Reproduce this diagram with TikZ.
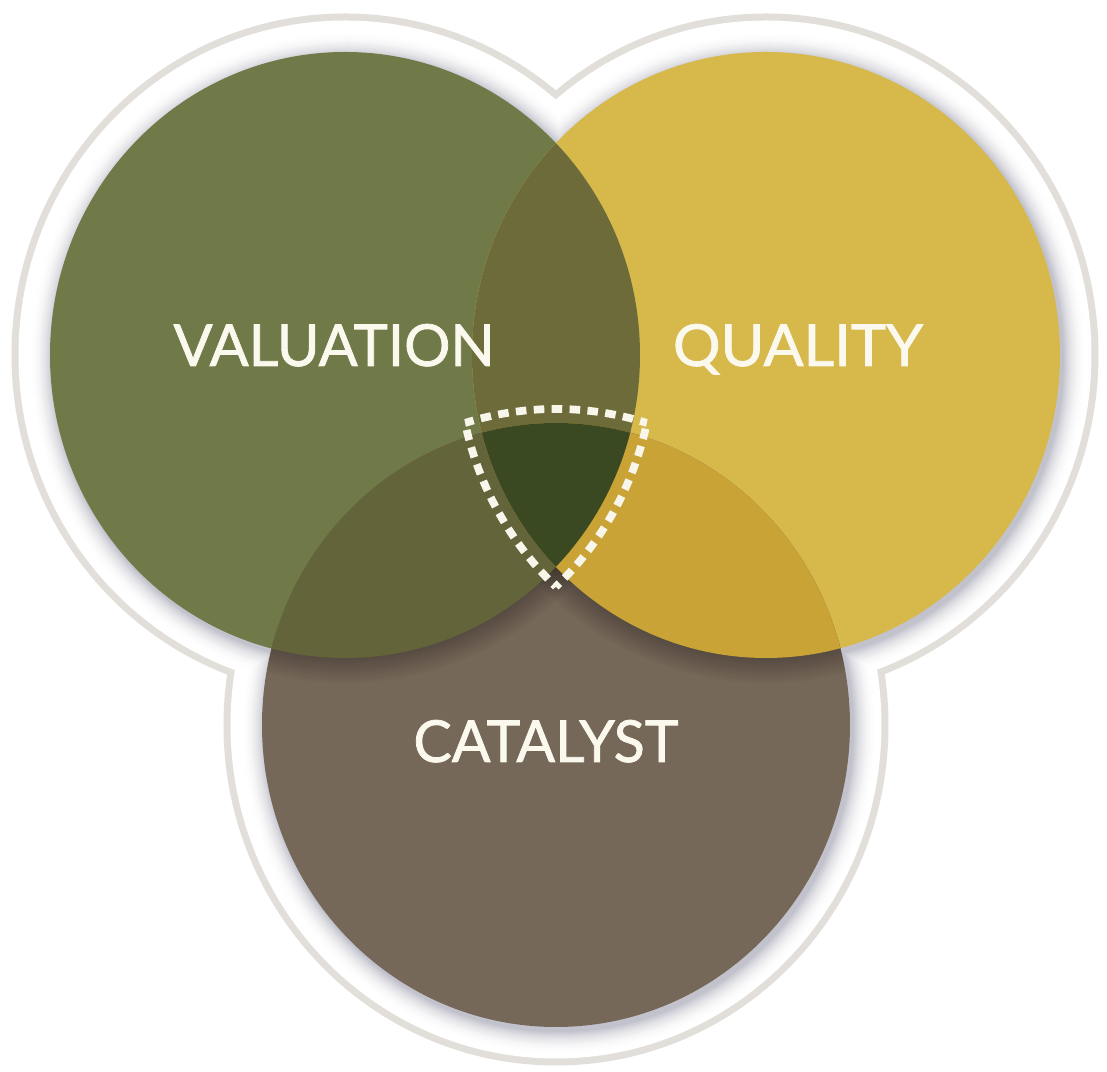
\documentclass[tikz,border=0pt]{standalone}
\usepackage{fontspec}
\setmainfont{Lato}
\newfontfamily\lblfont{Lato}[FakeBold=1.3]
\usepackage{graphicx}
\definecolor{valc}{HTML}{707A48}
\definecolor{qualc}{HTML}{D6B84B}
\definecolor{catc}{HTML}{766858}
\definecolor{vqc}{HTML}{6D6B3A}
\definecolor{vcc}{HTML}{636439}
\definecolor{qcc}{HTML}{C9A336}
\definecolor{vqcc}{HTML}{3B4922}
\definecolor{ringc}{HTML}{E2DFDA}
\definecolor{shadowc}{HTML}{BDBDC8}
\definecolor{labelc}{HTML}{FBF8EE}
\definecolor{dashc}{HTML}{F8F5EA}
\newcommand\ellV[1]{(3.45,-3.55) ellipse [x radius={2.95+#1}, y radius={3.03+#1}]}
\newcommand\ellQ[1]{(7.66,-3.55) ellipse [x radius={2.94+#1}, y radius={3.03+#1}]}
\newcommand\ellC[1]{(5.56,-7.25) ellipse [x radius={2.94+#1}, y radius={3.02+#1}]}
\begin{document}
\begin{tikzpicture}[
  lbl/.style={text=labelc, inner sep=0pt, anchor=base, font=\lblfont},
  dashline/.style={draw=dashc, line width=2.2pt, dash pattern=on 3pt off 2.1pt},
  castshadow/.style={draw=black, opacity=0.022}
]
\useasboundingbox (0,0) rectangle (11.07,-10.72);
\fill[white] (0,0) rectangle (11.07,-10.72);
% outer ring
\fill[ringc] \ellV{0.385} \ellQ{0.385} \ellC{0.385};
\fill[white] \ellV{0.315} \ellQ{0.315} \ellC{0.315};
% soft shadow round the circles
\foreach \k in {22,21,...,1} {
  \pgfmathsetmacro\p{100*(1-\k/24)^2}
  \fill[shadowc!\p!white, shift={(0.03,-0.04)}] \ellV{\k/100} \ellQ{\k/100} \ellC{\k/100};
}
% circles
\fill[valc] \ellV{0};
\fill[qualc] \ellQ{0};
\fill[catc] \ellC{0};
% shadow cast on the catalyst circle
\begin{scope}
  \clip \ellC{0};
  \foreach \w in {1.4pt,2.8pt,4.2pt,5.7pt,7.1pt,8.5pt,10pt,11.4pt,12.8pt,14.2pt} {
    \draw[castshadow, line width=\w] \ellV{0};
    \draw[castshadow, line width=\w] \ellQ{0};
  }
\end{scope}
% overlaps
\begin{scope}\clip \ellV{0}; \fill[vqc] \ellQ{0}; \end{scope}
\begin{scope}\clip \ellV{0}; \fill[vcc] \ellC{0}; \end{scope}
\begin{scope}\clip \ellQ{0}; \fill[qcc] \ellC{0}; \end{scope}
\begin{scope}\clip \ellV{0}; \clip \ellQ{0}; \fill[vqcc] \ellC{0}; \end{scope}
% dashed outline round the centre
\begin{scope}\clip \ellQ{0.14}; \clip \ellC{0.14}; \draw[dashline] \ellV{0.14}; \end{scope}
\begin{scope}\clip \ellV{0.14}; \clip \ellC{0.14}; \draw[dashline] \ellQ{0.14}; \end{scope}
\begin{scope}\clip \ellV{0.14}; \clip \ellQ{0.14}; \draw[dashline] \ellC{0.14}; \end{scope}
% labels
\node[lbl] (val) at (3.34,-3.66) {\resizebox{3.21cm}{0.42cm}{VALUATION}};
\node[lbl] (qual) at (7.98,-3.66) {\resizebox{2.50cm}{0.42cm}{QUALITY}};
\node[lbl] (cat) at (5.46,-7.62) {\resizebox{2.65cm}{0.42cm}{CATALYST}};
\end{tikzpicture}
\end{document}
